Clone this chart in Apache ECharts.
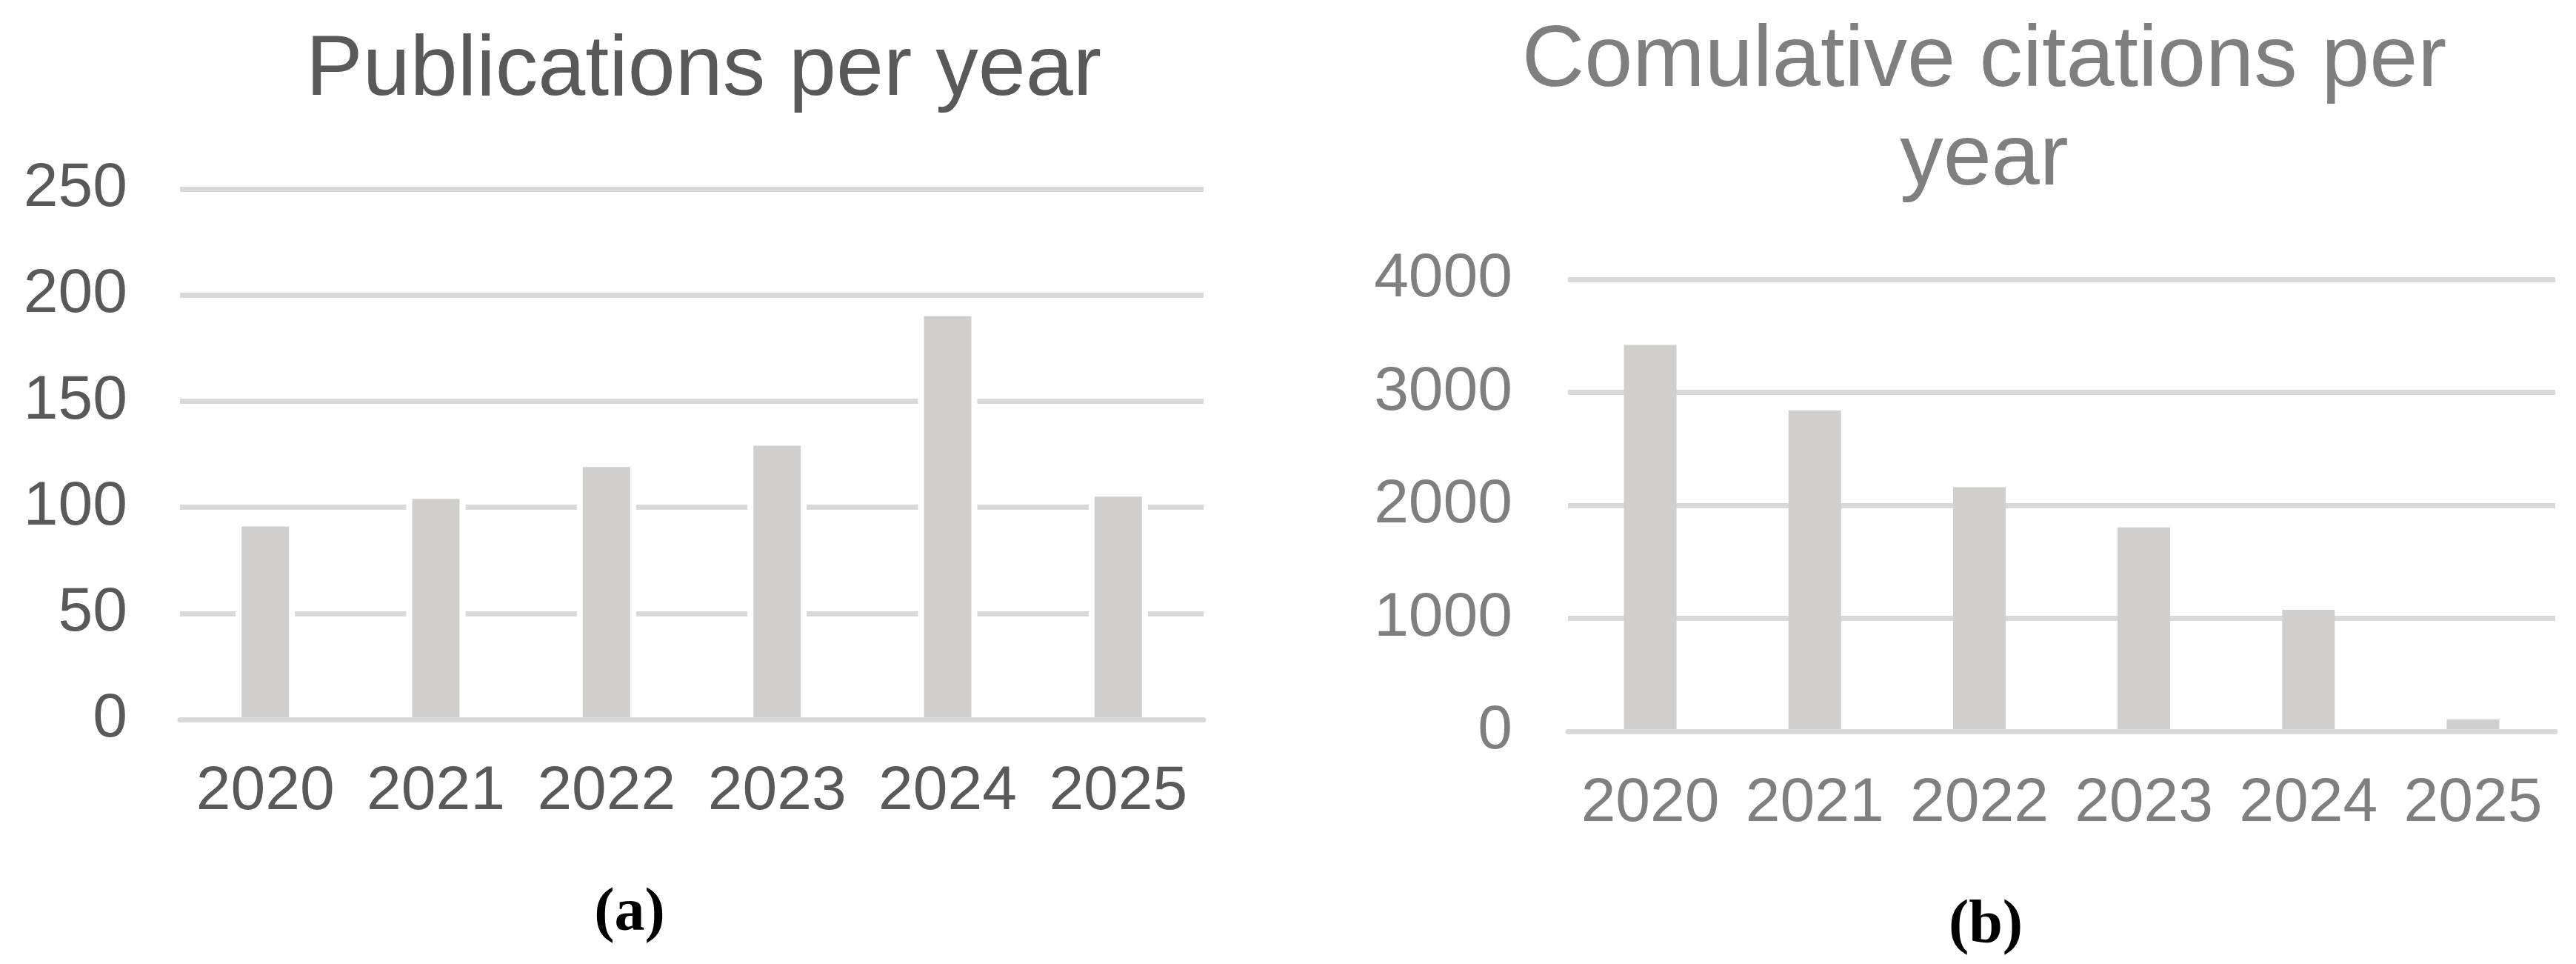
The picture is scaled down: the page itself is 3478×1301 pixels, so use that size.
<!DOCTYPE html>
<html>
<head>
<meta charset="utf-8">
<script src="https://cdn.jsdelivr.net/npm/echarts@6/dist/echarts.min.js"></script>
<style>
html,body{margin:0;padding:0;background:#fff;}
#chart{width:3478px;height:1301px;}
</style>
</head>
<body>
<div id="chart"></div>
<script>
// ---- data ----
const years = ['2020', '2021', '2022', '2023', '2024', '2025'];
const publications = [91, 104, 119, 129, 190, 105];
const citations = [3420, 2840, 2160, 1805, 1075, 105];
const titleA = 'Publications per year';
const titleB = 'Comulative citations per\nyear';
const captionA = '(a)';
const captionB = '(b)';

const SANS = "'Liberation Sans', Arial, sans-serif";
const SERIF = "'Liberation Serif', 'Times New Roman', serif";
const DARK = '#595959';
const MID = '#7f7f7f';
const GRID = '#d9d9d9';
const BAR = '#d0cfcd';

const chart = echarts.init(document.getElementById('chart'), null, {renderer: 'canvas'});

function valueAxis(gridIndex, max, interval, color, margin) {
  return {
    type: 'value', gridIndex: gridIndex, min: 0, max: max, interval: interval,
    axisLine: {show: false}, axisTick: {show: false},
    splitLine: {show: true, lineStyle: {color: GRID, width: 7}},
    axisLabel: {color: color, fontSize: 84, fontFamily: SANS, margin: margin,
                formatter: function (v) { return String(v); }}
  };
}
function catAxis(gridIndex, color, show) {
  return {
    type: 'category', gridIndex: gridIndex, data: years, show: show, z: 5,
    axisLine: {show: true, lineStyle: {color: GRID, width: 7}},
    axisTick: {show: false},
    axisLabel: {color: color, fontSize: 84, fontFamily: SANS, margin: 56, interval: 0}
  };
}

const option = {
  backgroundColor: '#ffffff',
  animation: false,
  title: [
    {text: titleA, left: 945, top: 34, textAlign: 'center',
     textStyle: {color: DARK, fontSize: 115, fontWeight: 'normal', fontFamily: SANS}},
    {text: titleB, left: 2674, top: 12, textAlign: 'center',
     textStyle: {color: MID, fontSize: 117, fontWeight: 'normal', fontFamily: SANS, lineHeight: 133}},
    {text: captionA, left: 845, top: 1188, textAlign: 'center',
     textStyle: {color: '#000', fontSize: 82, fontWeight: 'bold', fontFamily: SERIF}},
    {text: captionB, left: 2676, top: 1204, textAlign: 'center',
     textStyle: {color: '#000', fontSize: 82, fontWeight: 'bold', fontFamily: SERIF}}
  ],
  grid: [
    {left: 243, top: 255, width: 1382, height: 716},
    {left: 2117, top: 377, width: 1333, height: 610}
  ],
  xAxis: [
    catAxis(0, DARK, true),
    catAxis(0, DARK, false),
    catAxis(1, MID, true)
  ],
  yAxis: [
    valueAxis(0, 250, 50, DARK, 71),
    valueAxis(1, 4000, 1000, MID, 75)
  ],
  series: [
    {type: 'bar', name: 'halo', xAxisIndex: 1, yAxisIndex: 0, data: publications,
     barWidth: 80, itemStyle: {color: '#ffffff'}, silent: true, z: 2},
    {type: 'bar', name: 'Publications', xAxisIndex: 0, yAxisIndex: 0, data: publications,
     barWidth: 64, itemStyle: {color: BAR}, z: 3},
    {type: 'bar', name: 'Citations', xAxisIndex: 2, yAxisIndex: 1, data: citations,
     barWidth: 71, itemStyle: {color: BAR}, z: 3}
  ]
};
chart.setOption(option);
</script>
</body>
</html>
